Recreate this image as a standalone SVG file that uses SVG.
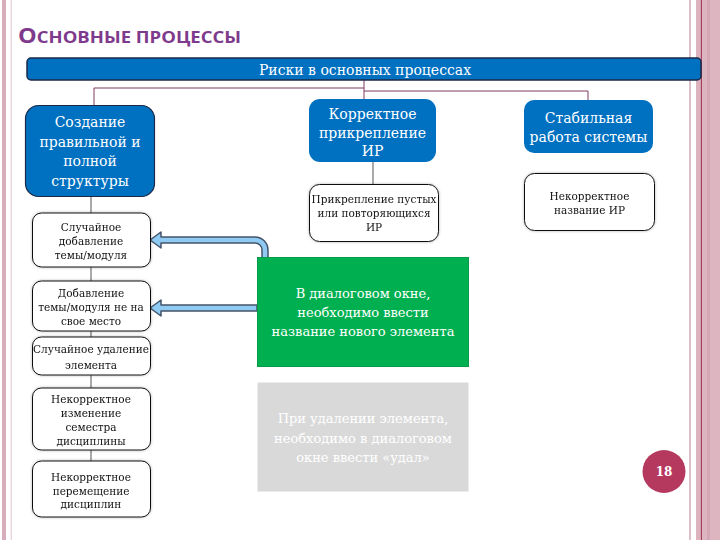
<svg xmlns="http://www.w3.org/2000/svg" width="720" height="540" viewBox="0 0 720 540">
<style>
.blue{fill:#0070c0}
.wbox{fill:#ffffff;stroke:#111111;stroke-width:1}
.bt{font-family:"DejaVu Serif",serif;font-size:14px;fill:#ffffff;text-anchor:middle}
.st{font-family:"DejaVu Serif",serif;font-size:10.5px;fill:#111111;text-anchor:middle}
.gt{font-family:"DejaVu Serif",serif;font-size:13px;fill:#ffffff;text-anchor:middle}
.con{stroke:#7a3b5e;stroke-width:1;fill:none}
.con2{stroke:#555555;stroke-width:1;fill:none}
.arr{fill:#8fcaf3;stroke:#44546a;stroke-width:1.5;stroke-linejoin:round}
</style>
<defs>
<filter id="sh" x="-10%" y="-10%" width="120%" height="120%">
<feGaussianBlur in="SourceAlpha" stdDeviation="1.5"/>
<feComponentTransfer><feFuncA type="linear" slope="0.3"/></feComponentTransfer>
<feMerge><feMergeNode/><feMergeNode in="SourceGraphic"/></feMerge>
</filter>
</defs>
<rect x="0" y="0" width="720" height="540" fill="#ffffff"/>
<g id="frame">
<rect x="2" y="0" width="4" height="540" fill="#d9aebb"/>
<rect x="10.5" y="0" width="1.5" height="540" fill="#ecd9df"/>
<rect x="689" y="0" width="2" height="540" fill="#dcc0c9"/>
<rect x="696" y="0" width="4" height="540" fill="#dcb2bf"/>
<rect x="700.5" y="0" width="1.5" height="540" fill="#a5405f"/>
<rect x="702" y="0" width="18" height="540" fill="#ddb5c1"/>
<rect x="707" y="0" width="3" height="540" fill="#d5a7b6"/>
</g>
<g id="title">
<text x="18" y="43" font-family="'Open Sans','Liberation Sans',sans-serif" font-weight="700" fill="#7e3a8c" textLength="223" lengthAdjust="spacingAndGlyphs"><tspan font-size="21">О</tspan><tspan font-size="16.5">СНОВНЫЕ ПРОЦЕССЫ</tspan></text>
</g>
<g id="connectors">
<path class="con" d="M364,80 V99 M94,88 H364 M94,88 V105 M364,91 H588 V100"/>
<path class="con2" d="M91,197 V213 M91,267 V281 M91,331 V337 M91,375 V388 M91,450 V461 M373,162 V184"/>
<path class="arr" d="M150,240 L161,232 L161,237 L255,237 A13,13 0 0 1 268,250 L268,258 L262,258 L262,250 A7,7 0 0 0 255,243 L161,243 L161,248 Z"/>
<path class="arr" d="M150,308 L161,300 L161,305 L257,305 L257,311 L161,311 L161,316 Z"/>
</g>
<g id="bar">
<rect x="27" y="58" width="674" height="22" rx="4" class="blue" stroke="#1b2a48" stroke-width="1.5"/>
<text x="365" y="75" class="bt" font-size="16">Риски в основных процессах</text>
</g>
<g id="n-structure">
<rect x="25.5" y="105.5" width="129" height="91" rx="13" class="blue" stroke="#1b2a48" stroke-width="1.2"/>
<text class="bt" x="90"><tspan x="90" y="127">Создание</tspan><tspan x="90" y="147">правильной и</tspan><tspan x="90" y="166">полной</tspan><tspan x="90" y="186">структуры</tspan></text>
</g>
<g id="n-add-random" filter="url(#sh)">
<rect x="32.5" y="213" width="118" height="54" rx="9" class="wbox"/>
<text class="st"><tspan x="91" y="231">Случайное</tspan><tspan x="91" y="245">добавление</tspan><tspan x="91" y="259">темы/модуля</tspan></text>
</g>
<g id="n-add-wrong" filter="url(#sh)">
<rect x="32.5" y="281" width="118" height="50" rx="9" class="wbox"/>
<text class="st"><tspan x="91" y="297">Добавление</tspan><tspan x="91" y="311">темы/модуля не на</tspan><tspan x="91" y="325">свое место</tspan></text>
</g>
<g id="n-delete" filter="url(#sh)">
<rect x="32.5" y="337" width="118" height="38" rx="9" class="wbox"/>
<text class="st"><tspan x="91" y="353">Случайное удаление</tspan><tspan x="91" y="369">элемента</tspan></text>
</g>
<g id="n-semester" filter="url(#sh)">
<rect x="32.5" y="388" width="118" height="62" rx="9" class="wbox"/>
<text class="st"><tspan x="91" y="403">Некорректное</tspan><tspan x="91" y="417">изменение</tspan><tspan x="91" y="431">семестра</tspan><tspan x="91" y="445">дисциплины</tspan></text>
</g>
<g id="n-move" filter="url(#sh)">
<rect x="32.5" y="461" width="118" height="56" rx="9" class="wbox"/>
<text class="st"><tspan x="91" y="481">Некорректное</tspan><tspan x="91" y="495">перемещение</tspan><tspan x="91" y="508">дисциплин</tspan></text>
</g>
<g id="n-attach">
<rect x="309" y="99" width="127" height="63" rx="11" class="blue"/>
<text class="bt"><tspan x="372.5" y="119">Корректное</tspan><tspan x="372.5" y="137.5">прикрепление</tspan><tspan x="372.5" y="156">ИР</tspan></text>
</g>
<g id="n-attach-empty" filter="url(#sh)">
<rect x="309.5" y="184.5" width="129" height="57" rx="10" class="wbox"/>
<text class="st"><tspan x="374" y="203">Прикрепление пустых</tspan><tspan x="374" y="217">или повторяющихся</tspan><tspan x="374" y="231">ИР</tspan></text>
</g>
<g id="n-green">
<rect x="257.5" y="257.5" width="211" height="109" fill="#00b050" stroke="#0a9a48" stroke-width="1"/>
<text class="gt"><tspan x="363" y="298">В диалоговом окне,</tspan><tspan x="363" y="317">необходимо ввести</tspan><tspan x="363" y="336">название нового элемента</tspan></text>
</g>
<g id="n-gray">
<rect x="257.5" y="382.5" width="211" height="109" fill="#d9d9d9"/>
<text class="gt"><tspan x="363" y="423">При удалении элемента,</tspan><tspan x="363" y="443">необходимо в диалоговом</tspan><tspan x="363" y="462">окне ввести «удал»</tspan></text>
</g>
<g id="n-stable">
<rect x="524" y="100" width="129" height="53" rx="10" class="blue"/>
<text class="bt"><tspan x="588.5" y="123">Стабильная</tspan><tspan x="588.5" y="142">работа системы</tspan></text>
</g>
<g id="n-name" filter="url(#sh)">
<rect x="524.5" y="173.5" width="130" height="57" rx="10" class="wbox"/>
<text class="st"><tspan x="589.5" y="200">Некорректное</tspan><tspan x="589.5" y="214">название ИР</tspan></text>
</g>
<g id="page">
<circle cx="664" cy="471.5" r="21.5" fill="#b5395f"/>
<text x="664" y="476" font-family="'DejaVu Serif',serif" font-size="12" font-weight="bold" fill="#ffffff" text-anchor="middle">18</text>
</g>
</svg>
